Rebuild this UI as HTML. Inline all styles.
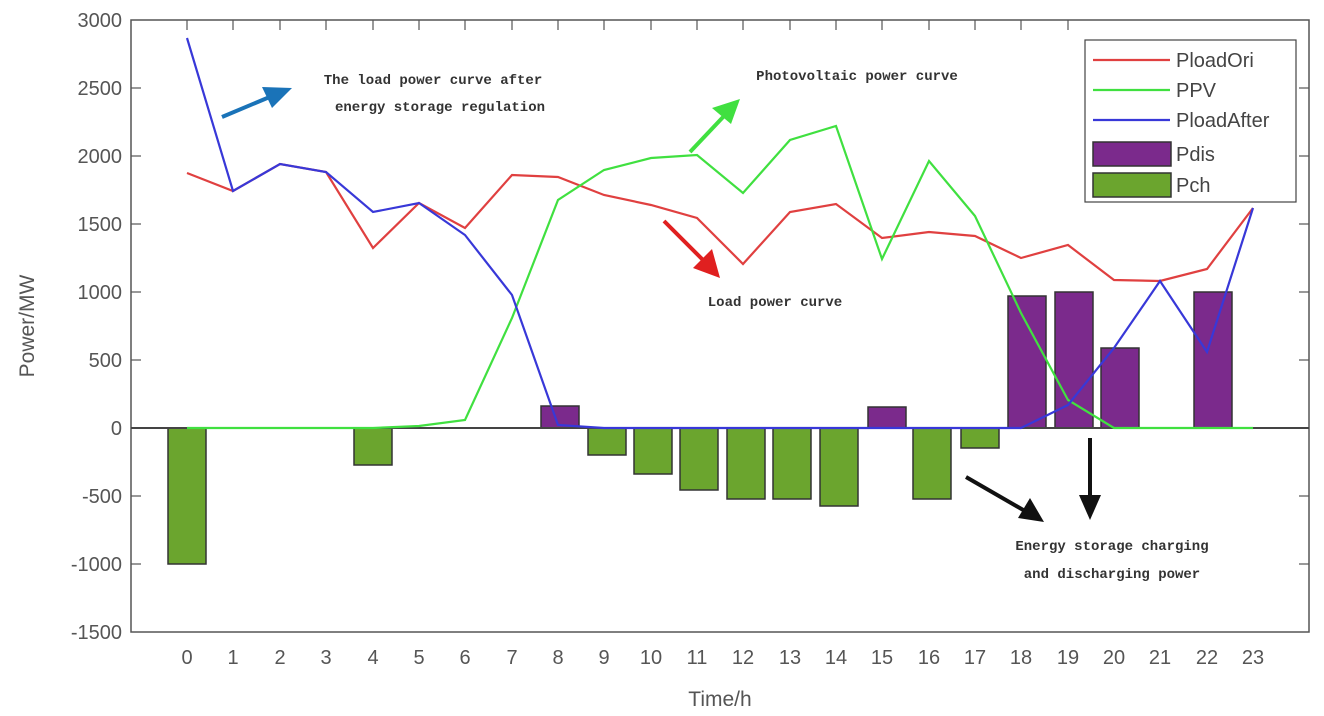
<!DOCTYPE html>
<html><head><style>body{margin:0;background:#fff}svg{display:block}</style></head><body>
<svg width="1324" height="716" xmlns="http://www.w3.org/2000/svg" font-family="Liberation Sans, sans-serif">
<rect width="1324" height="716" fill="#fff"/>
<g stroke="#555" stroke-width="1.5" fill="none">
<rect x="131" y="20" width="1178" height="612"/>
</g>
<g id="bars" stroke="#333" stroke-width="1.5">
<g fill="#7b2a8c">
<rect x="541" y="406" width="38" height="22"/><rect x="868" y="407" width="38" height="21"/>
<rect x="1008" y="296" width="38" height="132"/><rect x="1055" y="292" width="38" height="136"/>
<rect x="1101" y="348" width="38" height="80"/><rect x="1194" y="292" width="38" height="136"/>
</g>
<g fill="#6ba52e">
<rect x="168" y="428" width="38" height="136"/><rect x="354" y="428" width="38" height="37"/>
<rect x="588" y="428" width="38" height="27"/><rect x="634" y="428" width="38" height="46"/>
<rect x="680" y="428" width="38" height="62"/><rect x="727" y="428" width="38" height="71"/>
<rect x="773" y="428" width="38" height="71"/><rect x="820" y="428" width="38" height="78"/>
<rect x="913" y="428" width="38" height="71"/><rect x="961" y="428" width="38" height="20"/>
</g></g>
<line x1="131" y1="428" x2="1309" y2="428" stroke="#444" stroke-width="2"/>
<g fill="none" stroke-width="2.2">
<polyline stroke="#e04040" points="187,173 233,191 280,164 326,172 373,248 419,203 465,228 512,175 558,177 604,195 651,205 697,218 743,264 790,212 836,204 882,238 929,232 975,236 1021,258 1068,245 1114,280 1160,281 1207,269 1253,208"/>
<polyline stroke="#40e040" points="187,428 233,428 280,428 326,428 373,428 419,426 465,420 512,318 558,200 604,170 651,158 697,155 743,193 790,140 836,126 882,259 929,161 975,216 1021,313 1068,400 1114,428 1160,428 1207,428 1253,428"/>
<polyline stroke="#3838d8" points="187,38 233,191 280,164 326,172 373,212 419,203 465,235 512,295 558,425 604,428 651,428 697,428 743,428 790,428 836,428 882,428 929,428 975,428 1021,428 1068,405 1114,348 1160,281 1207,352 1253,208"/>
</g>
<g font-size="20" fill="#555" text-anchor="end">
<text x="122" y="27">3000</text><text x="122" y="95">2500</text><text x="122" y="163">2000</text><text x="122" y="231">1500</text><text x="122" y="299">1000</text><text x="122" y="367">500</text><text x="122" y="435">0</text><text x="122" y="503">-500</text><text x="122" y="571">-1000</text><text x="122" y="639">-1500</text>
</g>
<g font-size="20" fill="#555" text-anchor="middle">
<text x="187" y="664">0</text><text x="233" y="664">1</text><text x="280" y="664">2</text><text x="326" y="664">3</text><text x="373" y="664">4</text><text x="419" y="664">5</text><text x="465" y="664">6</text><text x="512" y="664">7</text><text x="558" y="664">8</text><text x="604" y="664">9</text><text x="651" y="664">10</text><text x="697" y="664">11</text><text x="743" y="664">12</text><text x="790" y="664">13</text><text x="836" y="664">14</text><text x="882" y="664">15</text><text x="929" y="664">16</text><text x="975" y="664">17</text><text x="1021" y="664">18</text><text x="1068" y="664">19</text><text x="1114" y="664">20</text><text x="1160" y="664">21</text><text x="1207" y="664">22</text><text x="1253" y="664">23</text>
<text x="720" y="706" font-size="21">Time/h</text>
<text transform="translate(34,326) rotate(-90)" font-size="21">Power/MW</text>
</g>
<g stroke="#555" stroke-width="1.2">
<line x1="187" y1="20" x2="187" y2="30"/><line x1="233" y1="20" x2="233" y2="30"/><line x1="280" y1="20" x2="280" y2="30"/><line x1="326" y1="20" x2="326" y2="30"/><line x1="373" y1="20" x2="373" y2="30"/><line x1="419" y1="20" x2="419" y2="30"/><line x1="465" y1="20" x2="465" y2="30"/><line x1="512" y1="20" x2="512" y2="30"/><line x1="558" y1="20" x2="558" y2="30"/><line x1="604" y1="20" x2="604" y2="30"/><line x1="651" y1="20" x2="651" y2="30"/><line x1="697" y1="20" x2="697" y2="30"/><line x1="743" y1="20" x2="743" y2="30"/><line x1="790" y1="20" x2="790" y2="30"/><line x1="836" y1="20" x2="836" y2="30"/><line x1="882" y1="20" x2="882" y2="30"/><line x1="929" y1="20" x2="929" y2="30"/><line x1="975" y1="20" x2="975" y2="30"/><line x1="1021" y1="20" x2="1021" y2="30"/><line x1="1068" y1="20" x2="1068" y2="30"/>
<line x1="131" y1="88" x2="141" y2="88"/><line x1="131" y1="156" x2="141" y2="156"/><line x1="131" y1="224" x2="141" y2="224"/><line x1="131" y1="292" x2="141" y2="292"/><line x1="131" y1="360" x2="141" y2="360"/><line x1="131" y1="496" x2="141" y2="496"/><line x1="131" y1="564" x2="141" y2="564"/>
<line x1="1299" y1="88" x2="1309" y2="88"/><line x1="1299" y1="156" x2="1309" y2="156"/><line x1="1299" y1="224" x2="1309" y2="224"/><line x1="1299" y1="292" x2="1309" y2="292"/><line x1="1299" y1="360" x2="1309" y2="360"/><line x1="1299" y1="496" x2="1309" y2="496"/><line x1="1299" y1="564" x2="1309" y2="564"/>
</g>
<!-- legend -->
<rect x="1085" y="40" width="211" height="162" fill="#fff" stroke="#444" stroke-width="1.2"/>
<g stroke-width="2.2"><line x1="1093" y1="60" x2="1170" y2="60" stroke="#e04040"/><line x1="1093" y1="90" x2="1170" y2="90" stroke="#40e040"/><line x1="1093" y1="120" x2="1170" y2="120" stroke="#3838d8"/></g>
<rect x="1093" y="142" width="78" height="24" fill="#7b2a8c" stroke="#333" stroke-width="1.5"/>
<rect x="1093" y="173" width="78" height="24" fill="#6ba52e" stroke="#333" stroke-width="1.5"/>
<g font-size="20" fill="#444"><text x="1176" y="67">PloadOri</text><text x="1176" y="97">PPV</text><text x="1176" y="127">PloadAfter</text><text x="1176" y="161">Pdis</text><text x="1176" y="192">Pch</text></g>
<!-- annotations -->
<g font-family="Liberation Mono, monospace" font-weight="bold" font-size="14" fill="#333" text-anchor="middle">
<text x="433" y="84">The load power curve after</text><text x="440" y="111">energy storage regulation</text>
<text x="857" y="80">Photovoltaic power curve</text>
<text x="775" y="306">Load power curve</text>
<text x="1112" y="550">Energy storage charging</text><text x="1112" y="578">and discharging power</text>
</g>
<g stroke-width="4" fill="none">
<line x1="222" y1="117" x2="272" y2="96" stroke="#1a73b8"/><polygon points="292,88 262,87 272,108" fill="#1a73b8"/>
<line x1="690" y1="152" x2="725" y2="115" stroke="#40e040"/><polygon points="740,99 712,108 731,124" fill="#40e040"/>
<line x1="664" y1="221" x2="705" y2="262" stroke="#e02020"/><polygon points="720,278 712,249 693,268" fill="#e02020"/>
<line x1="966" y1="477" x2="1025" y2="511" stroke="#111"/><polygon points="1044,522 1030,498 1018,518" fill="#111"/>
<line x1="1090" y1="438" x2="1090" y2="498" stroke="#111"/><polygon points="1090,520 1079,495 1101,495" fill="#111"/>
</g>
</svg>
</body></html>
